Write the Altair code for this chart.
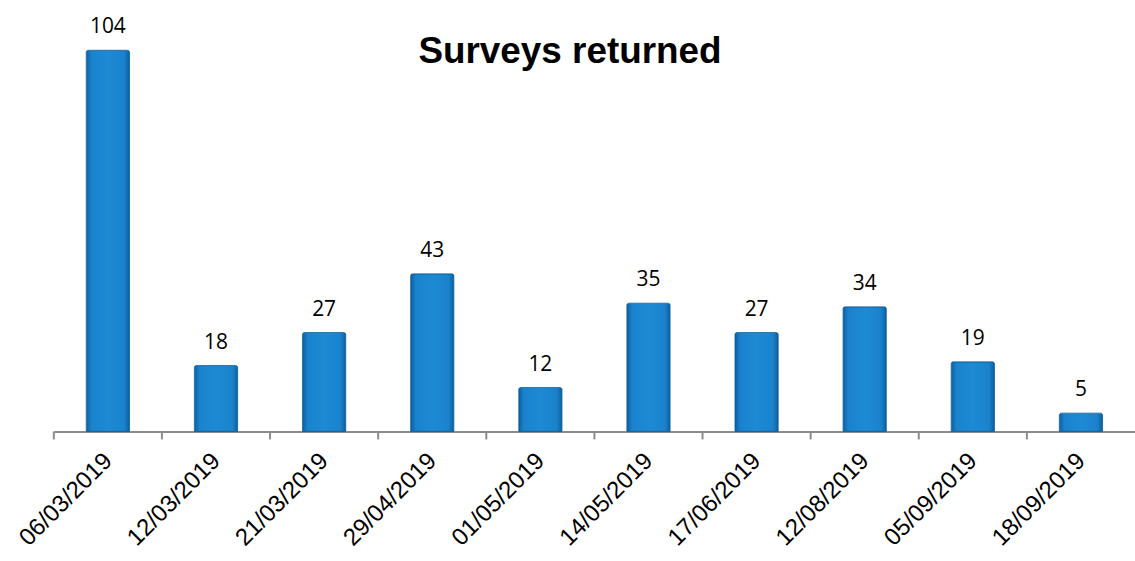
import altair as alt
import pandas as pd

dates = ["06/03/2019", "12/03/2019", "21/03/2019", "29/04/2019", "01/05/2019",
         "14/05/2019", "17/06/2019", "12/08/2019", "05/09/2019", "18/09/2019"]
returned = [104, 18, 27, 43, 12, 35, 27, 34, 19, 5]

df = pd.DataFrame({"date": dates, "returned": returned})

PLOT_W = 1085
N = len(dates)
STEP = PLOT_W / N
GAP_HALF = 0.3 * STEP  # half the space between neighbouring bars

x_enc = alt.X(
    "date:N",
    sort=dates,
    scale=alt.Scale(paddingInner=0.6, paddingOuter=0.3),
    axis=alt.Axis(
        title=None,
        labelAngle=-45,
        labelFont="Liberation Sans",
        labelFontSize=24,
        labelColor="#000000",
        labelPadding=17,
        labelOffset=-8,
        ticks=False,
        domainColor="#8c8c8c",
        domainWidth=2,
    ),
)
y_scale = alt.Scale(domain=[0, 115], nice=False)

base = alt.Chart(df)

bar_fill = alt.Gradient(
    gradient="linear",
    x1=0, x2=1, y1=0, y2=0,
    stops=[
        alt.GradientStop(color="#0d5f9e", offset=0),
        alt.GradientStop(color="#1a82cc", offset=0.12),
        alt.GradientStop(color="#1e8ad4", offset=0.5),
        alt.GradientStop(color="#1a82cc", offset=0.88),
        alt.GradientStop(color="#0d5f9e", offset=1),
    ],
)

bars = base.mark_bar(fill=bar_fill, stroke="#0e5e9a", strokeWidth=0.8,
                     cornerRadiusTopLeft=2, cornerRadiusTopRight=2).encode(
    x=x_enc,
    y=alt.Y("returned:Q", scale=y_scale, axis=None),
)

labels = base.mark_text(font="Open Sans", fontSize=21, color="#000000",
                        baseline="alphabetic", dy=-17).encode(
    x=alt.X("date:N", sort=dates),
    y=alt.Y("returned:Q", scale=y_scale, axis=None),
    text=alt.Text("returned:Q"),
)

# category separator ticks sit on the band edges, below the axis line
ticks = base.mark_rule(color="#8c8c8c", strokeWidth=2, xOffset=-GAP_HALF).encode(
    x=alt.X("date:N", sort=dates, bandPosition=0),
    y=alt.value(423),
    y2=alt.value(431),
)

title = alt.Chart(pd.DataFrame({"t": ["Surveys returned"]})).mark_text(
    font="Liberation Sans", fontSize=37, fontWeight="bold", color="#000000",
    align="center", baseline="alphabetic",
).encode(x=alt.value(518), y=alt.value(53), text="t:N")

chart = alt.layer(bars, ticks, labels, title).properties(
    width=PLOT_W,
    height=423,
    padding={"left": 54, "top": 9, "right": 0, "bottom": 129},
    autosize=alt.AutoSizeParams(type="none"),
    background="#ffffff",
).configure_view(strokeWidth=0, stroke="transparent")

chart.save("out.html", embed_options={"renderer": "svg", "actions": False})
